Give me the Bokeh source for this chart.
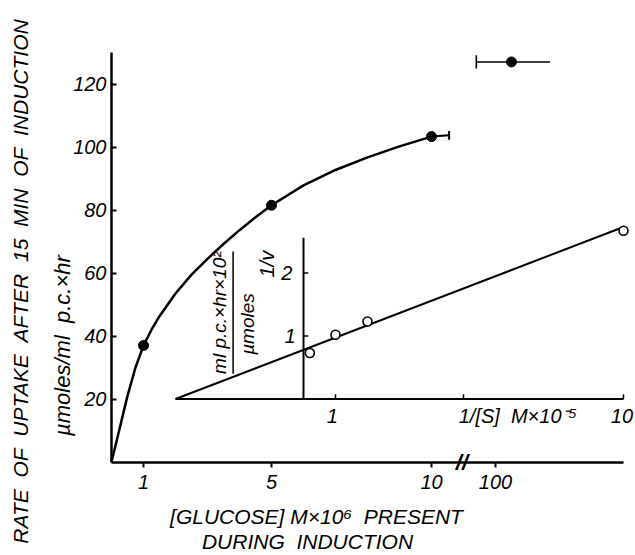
from bokeh.plotting import figure
from bokeh.models import Range1d, FixedTicker, Label
from bokeh.embed import file_html
from bokeh.resources import INLINE
import math

# ---------------- data ----------------
# main plot: rate of uptake vs glucose during induction
glucose = [1, 5, 10]
rate = [37, 81.5, 103.3]
err10_high = [10.55]           # right end of the error bar of the 10 uM point

# high glucose point beyond the axis break
hi_glucose = [150]
hi_rate = [127]
hi_err_low = [40]
hi_err_high = [270]

# hand-drawn saturation curve
curve_glucose = [0, 0.25, 0.5, 0.75, 1.0, 1.25, 1.5, 2.0, 2.5, 3.0, 3.5, 4.0, 4.5, 5.0,
                 6.0, 7.0, 8.0, 9.0, 10.0]
curve_rate = [0, 10.5, 21, 30, 37, 42, 46.3, 53.5, 59.5, 64.5, 69.2, 73.6, 77.7, 81.5,
              87.8, 92.7, 96.7, 100.2, 103.3]

# inset: Lineweaver-Burk plot
inv_s = [0.2, 1.0, 2.0, 10.0]
inv_v = [0.73, 1.02, 1.23, 2.67]
lb_line_s = [-4, 10]
lb_line_v = [0, 2.73]
inset_x_ticks = [1, 5, 10]
inset_y_ticks = [1, 2]

x_ticks = [1, 5, 10]
break_tick = 100
y_ticks = [20, 40, 60, 80, 100, 120]

# ---------------- coordinate helpers ----------------
def gx(g):
    """glucose -> axis position (broken axis after 10)."""
    return g if g <= 11 else 12 + (g - 100) / 100.0

INSET_X0, INSET_Y0, INSET_YS = 6.0, 20.0, 20.0
def ix(v):
    return INSET_X0 + v
def iy(v):
    return INSET_Y0 + INSET_YS * v

FONT = "Liberation Sans"
XS = 32.0      # px per x unit
YS = 3.15      # px per y unit
X0PX = 111.0   # canvas x of x=0
Y0PX = 461.5   # canvas y of y=0

p = figure(width=635, height=555, output_backend="svg", toolbar_location=None,
           x_range=Range1d(-X0PX / XS, (635 - X0PX) / XS),
           y_range=Range1d(-(555 - Y0PX) / YS, Y0PX / YS),
           min_border_left=0, min_border_right=0, min_border_top=0, min_border_bottom=0)
p.min_border = 0
p.outline_line_color = None
p.xgrid.visible = False
p.ygrid.visible = False
p.background_fill_color = "white"
p.border_fill_color = "white"

# axes
for ax in (p.xaxis[0], p.yaxis[0]):
    ax.fixed_location = 0
    ax.axis_line_width = 2.5
    ax.axis_line_color = "black"
    ax.major_tick_line_width = 2
    ax.major_tick_line_color = "black"
    ax.minor_tick_line_color = None
    ax.major_label_text_font = FONT
    ax.major_label_text_font_style = "italic"
    ax.major_label_text_font_size = "20px"
    ax.major_label_text_color = "black"

p.yaxis.bounds = (0, 130)
p.yaxis.ticker = FixedTicker(ticks=y_ticks)
p.yaxis.major_tick_in = 5
p.yaxis.major_tick_out = 0
p.yaxis.major_label_standoff = 5

p.xaxis.bounds = (0, 16)
p.xaxis.ticker = FixedTicker(ticks=x_ticks + [gx(break_tick)])
p.xaxis.major_label_overrides = {gx(break_tick): str(break_tick)}
p.xaxis.major_tick_in = 0
p.xaxis.major_tick_out = 5
p.xaxis.major_label_standoff = 8

# saturation curve and points
p.line([gx(g) for g in curve_glucose], curve_rate, line_width=2.5, line_color="black")
p.scatter([gx(g) for g in glucose], rate, size=10, marker="circle",
          fill_color="black", line_color="black")
# error bar on 10 uM point
p.segment(x0=[gx(glucose[2])], y0=[rate[2]], x1=[gx(err10_high[0])], y1=[rate[2] + 0.4],
          line_width=2, line_color="black")
p.segment(x0=[gx(err10_high[0])], y0=[rate[2] + 0.4 - 1.4], x1=[gx(err10_high[0])], y1=[rate[2] + 0.4 + 1.4],
          line_width=2, line_color="black")

# high glucose point with error bar
p.segment(x0=[gx(hi_err_low[0])], y0=hi_rate, x1=[gx(hi_err_high[0])], y1=hi_rate,
          line_width=1.6, line_color="black")
p.segment(x0=[gx(hi_err_low[0])], y0=[hi_rate[0] - 2.1], x1=[gx(hi_err_low[0])], y1=[hi_rate[0] + 2.1],
          line_width=1.6, line_color="black")
p.scatter([gx(g) for g in hi_glucose], hi_rate, size=10, marker="circle",
          fill_color="black", line_color="black")

def lab(x, y, text, size="20px", align="center", baseline="middle", angle=0.0, style="italic"):
    p.add_layout(Label(x=x, y=y, text=text, text_font=FONT, text_font_style=style,
                       text_font_size=size, text_align=align, text_baseline=baseline,
                       angle=angle, text_color="black"))

# break mark on x axis
lab(10.95, 0, "//", size="22px", style="bold italic")

# ---------------- inset ----------------
p.segment(x0=[ix(lb_line_s[0])], y0=[iy(0)], x1=[ix(10)], y1=[iy(0)], line_width=2, line_color="black")
p.segment(x0=[ix(0)], y0=[iy(0)], x1=[ix(0)], y1=[iy(2.56)], line_width=2, line_color="black")
# inset ticks
p.segment(x0=[ix(t) for t in inset_x_ticks], y0=[iy(0)] * 3,
          x1=[ix(t) for t in inset_x_ticks], y1=[iy(0) + 1.5] * 3, line_width=1.5, line_color="black")
p.segment(x0=[ix(0)] * 2, y0=[iy(t) for t in inset_y_ticks],
          x1=[ix(0) + 0.15] * 2, y1=[iy(t) for t in inset_y_ticks], line_width=1.5, line_color="black")
# LB line and points
p.line([ix(s) for s in lb_line_s], [iy(v) for v in lb_line_v], line_width=2, line_color="black")
p.scatter([ix(s) for s in inv_s], [iy(v) for v in inv_v], size=9, marker="circle",
          fill_color="white", line_color="black", line_width=1.6)

# inset tick labels
lab(ix(-0.25), iy(1), "1", align="right")
lab(ix(-0.35), iy(2), "2", align="right")
lab(ix(0.9), iy(0) - 5.3, "1")
lab(ix(9.95), iy(0) - 5.3, "10")
lab(ix(4.85), iy(0) - 5.3, "1/[S]\u00a0\u00a0M\u00d710\u207b\u2075", align="left")
# inset y label
lab(ix(-1.14), iy(2.14), "1/v", angle=math.pi / 2)
lab(ix(-2.62), iy(1.37), "ml p.c.\u00d7hr\u00d710\u00b2", size="19px", angle=math.pi / 2)
p.segment(x0=[ix(-2.2)], y0=[iy(0.4)], x1=[ix(-2.2)], y1=[iy(2.34)], line_width=1.5, line_color="black")
lab(ix(-1.74), iy(1.19), "\u00b5moles", size="19px", angle=math.pi / 2)

# ---------------- axis titles ----------------
def px2x(px):
    return (px - X0PX) / XS
def px2y(py):
    return (Y0PX - py) / YS

lab(px2x(20), px2y(281),
    "RATE\u00a0\u00a0OF\u00a0\u00a0UPTAKE\u00a0\u00a0AFTER\u00a0\u00a015\u00a0\u00a0MIN\u00a0\u00a0OF\u00a0\u00a0INDUCTION",
    size="21px", angle=math.pi / 2)
lab(px2x(62), px2y(345), "\u00b5moles/ml\u00a0\u00a0p.c.\u00d7hr", size="22px", angle=math.pi / 2)
lab(px2x(316), px2y(516), "[GLUCOSE]\u00a0M\u00d710\u2076\u00a0\u00a0PRESENT", size="21px")
lab(px2x(307), px2y(541), "DURING\u00a0\u00a0INDUCTION", size="21px")

open("out.html", "w").write(file_html(p, INLINE))
